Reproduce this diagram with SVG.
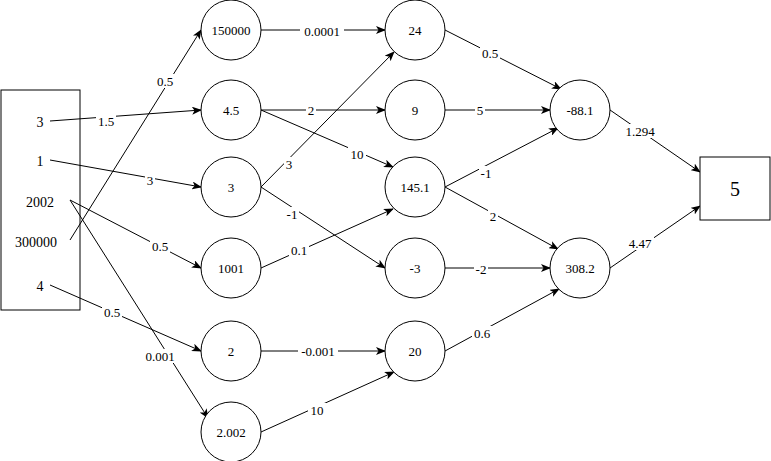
<svg xmlns="http://www.w3.org/2000/svg" width="771" height="461" viewBox="0 0 771 461">
<defs><marker id="a" markerWidth="10" markerHeight="8" refX="9" refY="4" orient="auto" markerUnits="userSpaceOnUse"><path d="M0,0L10,4L0,8L2.5,4z" fill="#000"/></marker></defs>
<style>
text{font-family:"Liberation Serif",serif;font-size:13px;text-anchor:middle;dominant-baseline:central;fill:#000}
circle,rect.b{fill:#fff;stroke:#000;stroke-width:1}
#c line{stroke:#000;stroke-width:1;marker-end:url(#a)}
#c line.n{marker-end:none}
.l rect{fill:#fff}
.big{font-size:20px}
.in{font-size:14px}
</style>
<rect width="771" height="461" fill="#fff"/>
<g id="input"><rect class="b" x="1" y="90" width="79" height="220"/>
<text class="in" x="40" y="122">3</text><text class="in" x="40" y="161">1</text><text class="in" x="40" y="202">2002</text><text class="in" x="36" y="242">300000</text><text class="in" x="40" y="286">4</text></g>
<g id="c">
<line x1="50" y1="121" x2="201" y2="110"/>
<line x1="50" y1="160" x2="201" y2="187"/>
<line x1="70" y1="200" x2="201" y2="268"/>
<line x1="70" y1="200" x2="208" y2="418"/>
<line x1="70" y1="240" x2="201" y2="30"/>
<line x1="50" y1="285" x2="201" y2="351"/>
<line x1="261" y1="30" x2="385" y2="30"/>
<line x1="261" y1="110" x2="385" y2="110"/>
<line x1="261" y1="110" x2="393" y2="167"/>
<line x1="261" y1="187" x2="394" y2="52"/>
<line x1="261" y1="187" x2="385" y2="268"/>
<line x1="261" y1="268" x2="393" y2="209"/>
<line x1="261" y1="351" x2="385" y2="351"/>
<line x1="261" y1="432" x2="394" y2="372"/>
<line x1="445" y1="30" x2="561" y2="89"/>
<line x1="445" y1="110" x2="550" y2="110"/>
<line x1="445" y1="187" x2="558" y2="128"/>
<line x1="445" y1="187" x2="558" y2="249"/>
<line x1="445" y1="268" x2="550" y2="268"/>
<line x1="445" y1="351" x2="559" y2="289"/>
<line x1="610" y1="110" x2="700" y2="172"/>
<line x1="610" y1="268" x2="700" y2="206"/>
<g class="l">
<rect x="96" y="114" width="20" height="14"/><text x="106" y="121">1.5</text>
<rect x="145" y="173" width="10" height="14"/><text x="150" y="180">3</text>
<rect x="150" y="239" width="20" height="14"/><text x="160" y="246">0.5</text>
<rect x="142" y="349" width="36" height="14"/><text x="160" y="356">0.001</text>
<rect x="155" y="74" width="20" height="14"/><text x="165" y="81">0.5</text>
<rect x="102" y="305" width="20" height="14"/><text x="112" y="312">0.5</text>
<rect x="300" y="24" width="44" height="14"/><text x="322" y="31">0.0001</text>
<rect x="306" y="103" width="10" height="14"/><text x="311" y="110">2</text>
<rect x="348" y="147" width="18" height="14"/><text x="357" y="154">10</text>
<rect x="284" y="157" width="10" height="14"/><text x="289" y="164">3</text>
<rect x="285" y="207" width="14" height="14"/><text x="292" y="214">-1</text>
<rect x="289" y="243" width="20" height="14"/><text x="299" y="250">0.1</text>
<rect x="298" y="344" width="40" height="14"/><text x="318" y="351">-0.001</text>
<rect x="308" y="403" width="18" height="14"/><text x="317" y="410">10</text>
<rect x="480" y="46" width="20" height="14"/><text x="490" y="53">0.5</text>
<rect x="475" y="103" width="10" height="14"/><text x="480" y="110">5</text>
<rect x="479" y="166" width="14" height="14"/><text x="486" y="173">-1</text>
<rect x="488" y="209" width="10" height="14"/><text x="493" y="216">2</text>
<rect x="474" y="262" width="14" height="14"/><text x="481" y="269">-2</text>
<rect x="472" y="326" width="20" height="14"/><text x="482" y="333">0.6</text>
<rect x="622" y="124" width="36" height="14"/><text x="640" y="131">1.294</text>
<rect x="626" y="236" width="28" height="14"/><text x="640" y="243">4.47</text>
</g></g>
<g id="n1"><circle cx="231" cy="30" r="30"/><text x="231" y="30">150000</text></g>
<g id="n2"><circle cx="231" cy="110" r="30"/><text x="231" y="110">4.5</text></g>
<g id="n3"><circle cx="231" cy="187" r="30"/><text x="231" y="187">3</text></g>
<g id="n4"><circle cx="231" cy="268" r="30"/><text x="231" y="268">1001</text></g>
<g id="n5"><circle cx="231" cy="351" r="30"/><text x="231" y="351">2</text></g>
<g id="n6"><circle cx="231" cy="432" r="30"/><text x="231" y="432">2.002</text></g>
<g id="m1"><circle cx="415" cy="30" r="30"/><text x="415" y="30">24</text></g>
<g id="m2"><circle cx="415" cy="110" r="30"/><text x="415" y="110">9</text></g>
<g id="m3"><circle cx="415" cy="187" r="30"/><text x="415" y="187">145.1</text></g>
<g id="m4"><circle cx="415" cy="268" r="30"/><text x="415" y="268">-3</text></g>
<g id="m5"><circle cx="415" cy="351" r="30"/><text x="415" y="351">20</text></g>
<g id="k1"><circle cx="580" cy="110" r="30"/><text x="580" y="110">-88.1</text></g>
<g id="k2"><circle cx="580" cy="268" r="30"/><text x="580" y="268">308.2</text></g>
<g id="out"><rect class="b" x="700" y="157" width="70" height="63"/><text class="big" x="735" y="189">5</text></g>
</svg>
